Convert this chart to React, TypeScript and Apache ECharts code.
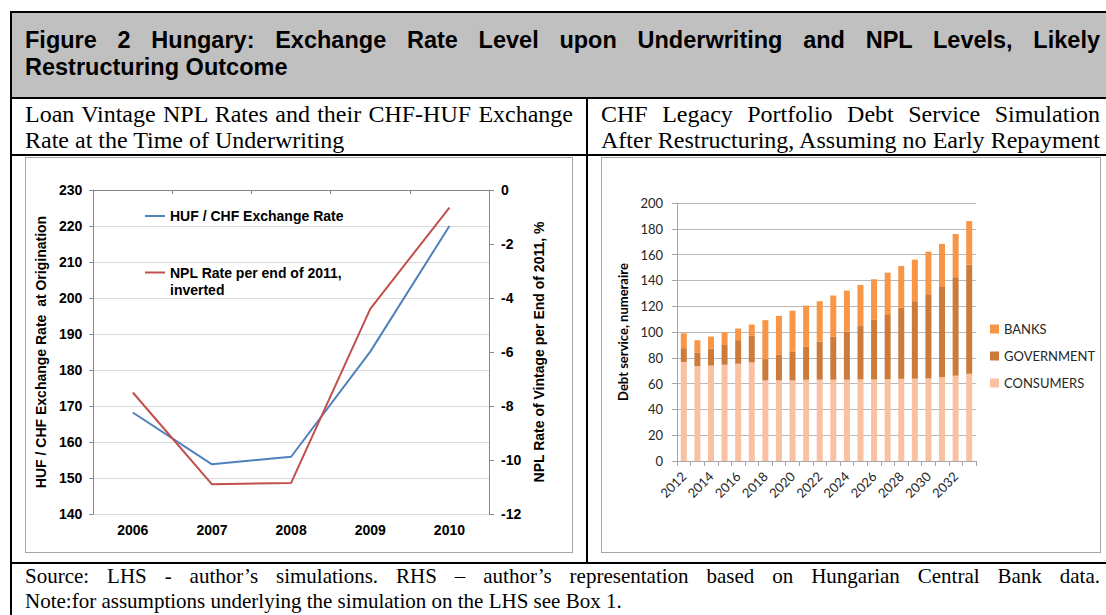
import React, { useEffect, useRef } from "react";
import * as echarts from "echarts";

// ---- Left chart data ----
const vintageYears = ["2006", "2007", "2008", "2009", "2010"];
const hufChfRate = [168.2, 153.8, 155.9, 185.1, 220.0];
const nplRateInverted = [-7.5, -10.9, -10.85, -4.4, -0.65];
const leftAxisTicks = { min: 140, max: 230, interval: 10 };
const rightAxisTicks = { min: -12, max: 0, interval: 2 };

// ---- Right chart data ----
const debtYears = [
  "2012", "2013", "2014", "2015", "2016", "2017", "2018", "2019", "2020", "2021", "2022",
  "2023", "2024", "2025", "2026", "2027", "2028", "2029", "2030", "2031", "2032", "2033",
];
const consumers = [76.8, 73.5, 74.0, 74.6, 75.4, 76.4, 62.5, 62.5, 62.5, 63.0, 63.0, 63.0, 63.0, 63.2, 63.2, 63.4, 63.7, 63.8, 64.0, 65.0, 66.1, 67.6];
const government = [10.7, 10.3, 13.0, 15.9, 18.3, 20.6, 16.5, 19.8, 22.1, 25.5, 29.4, 33.5, 37.4, 41.4, 46.2, 50.4, 55.0, 60.1, 65.3, 70.5, 76.4, 84.7];
const banks = [11.5, 9.8, 9.5, 9.3, 9.0, 8.8, 30.2, 30.2, 32.0, 32.0, 31.5, 31.8, 31.7, 31.9, 31.5, 32.2, 32.5, 32.2, 33.0, 32.8, 33.5, 33.7];
const debtAxisTicks = { min: 0, max: 200, interval: 20 };

const ARIAL = "'Liberation Sans', Arial, sans-serif";
const TIMES = "'Liberation Serif', 'Times New Roman', serif";
const CALIBRI = "Lato, 'Open Sans', sans-serif";

function LeftChart() {
  const ref = useRef<HTMLDivElement>(null);
  useEffect(() => {
    const chart = echarts.init(ref.current!, null, { renderer: "svg" });
    const bold = { fontFamily: ARIAL, fontWeight: "bold" as const, fontSize: 14, color: "#000" };
    chart.setOption({
      animation: false,
      grid: { left: 65, right: 83, top: 32, bottom: 38 },
      legend: [
        {
          data: ["HUF / CHF Exchange Rate"],
          left: 119,
          top: 51,
          padding: 0,
          itemWidth: 20,
          itemHeight: 2,
          icon: "rect",
          itemStyle: { borderWidth: 0 },
          textStyle: { ...bold },
        },
        {
          data: ["NPL Rate per end of 2011, inverted"],
          left: 119,
          top: 106,
          padding: 0,
          itemWidth: 20,
          itemHeight: 34,
          icon: "path://M0,0L0.01,0L0.01,0.01ZM0,7.5L20,7.5L20,9.5L0,9.5ZM0,34L0.01,34L0.01,33.99Z",
          itemStyle: { borderWidth: 0 },
          formatter: () => "NPL Rate per end of 2011,\ninverted",
          textStyle: { ...bold, lineHeight: 17 },
        },
      ],
      xAxis: {
        type: "category",
        data: vintageYears,
        boundaryGap: true,
        axisLine: { lineStyle: { color: "#868686", width: 1 } },
        axisTick: { show: true, length: 4, lineStyle: { color: "#868686" } },
        axisLabel: { ...bold, margin: 9 },
      },
      yAxis: [
        {
          type: "value",
          position: "left",
          min: leftAxisTicks.min,
          max: leftAxisTicks.max,
          interval: leftAxisTicks.interval,
          name: "HUF / CHF Exchange Rate  at Origination",
          nameLocation: "middle",
          nameGap: 44,
          nameTextStyle: { ...bold },
          axisLine: { show: true, lineStyle: { color: "#868686" } },
          axisTick: { show: true, length: 4, lineStyle: { color: "#868686" } },
          axisLabel: { ...bold, margin: 11 },
          splitLine: { show: true, lineStyle: { color: "#D9D9D9", width: 1 } },
        },
        {
          type: "value",
          position: "right",
          min: rightAxisTicks.min,
          max: rightAxisTicks.max,
          interval: rightAxisTicks.interval,
          name: "NPL Rate of Vintage per End of 2011, %",
          nameLocation: "middle",
          nameGap: 37,
          nameTextStyle: { ...bold },
          axisLine: { show: true, lineStyle: { color: "#868686" } },
          axisTick: { show: true, length: 5, lineStyle: { color: "#868686" } },
          axisLabel: { ...bold, margin: 12 },
          splitLine: { show: false },
        },
      ],
      series: [
        {
          name: "HUF / CHF Exchange Rate",
          type: "line",
          yAxisIndex: 0,
          data: hufChfRate,
          symbol: "none",
          color: "#4F81BD",
          lineStyle: { width: 2, color: "#4F81BD" },
        },
        {
          name: "NPL Rate per end of 2011, inverted",
          type: "line",
          yAxisIndex: 1,
          data: nplRateInverted,
          symbol: "none",
          color: "#C0504D",
          lineStyle: { width: 2, color: "#C0504D" },
        },
      ],
    });
    return () => chart.dispose();
  }, []);
  return <div ref={ref} style={{ width: 546, height: 394 }} />;
}

function RightChart() {
  const ref = useRef<HTMLDivElement>(null);
  useEffect(() => {
    const chart = echarts.init(ref.current!, null, { renderer: "svg" });
    const txt = { fontFamily: CALIBRI, fontSize: 13, color: "#262626" };
    chart.setOption({
      animation: false,
      grid: { left: 75, right: 124, top: 45, bottom: 91 },
      legend: {
        data: ["BANKS", "GOVERNMENT", "CONSUMERS"],
        orient: "vertical",
        left: 383,
        top: 159.5,
        itemWidth: 9,
        itemHeight: 9,
        itemGap: 14,
        icon: "rect",
        textStyle: { ...txt },
      },
      xAxis: {
        type: "category",
        data: debtYears,
        boundaryGap: true,
        axisLine: { lineStyle: { color: "#A6A6A6" } },
        axisTick: { show: true, interval: 0, length: 5, lineStyle: { color: "#A6A6A6" } },
        axisLabel: { ...txt, interval: 1, rotate: 45, margin: 13 },
      },
      yAxis: {
        type: "value",
        min: debtAxisTicks.min,
        max: debtAxisTicks.max,
        interval: debtAxisTicks.interval,
        name: "Debt service, numeraire",
        nameLocation: "middle",
        nameGap: 37,
        nameTextStyle: { fontFamily: CALIBRI, fontSize: 13, fontWeight: "bold", color: "#000" },
        axisLine: { show: true, lineStyle: { color: "#A6A6A6" } },
        axisTick: { show: true, length: 5, lineStyle: { color: "#A6A6A6" } },
        axisLabel: { ...txt, margin: 14 },
        splitLine: { show: true, lineStyle: { color: "#B8B8B8", width: 1 } },
      },
      series: [
        { name: "CONSUMERS", type: "bar", stack: "d", data: consumers, barWidth: 6, color: "#F9C1A2" },
        { name: "GOVERNMENT", type: "bar", stack: "d", data: government, barWidth: 6, color: "#CD7B3B" },
        { name: "BANKS", type: "bar", stack: "d", data: banks, barWidth: 6, color: "#F79646" },
      ],
    });
    return () => chart.dispose();
  }, []);
  return <div ref={ref} style={{ width: 498, height: 394 }} />;
}

const abs = (l: number, t: number, w: number, h: number, extra: React.CSSProperties = {}): React.CSSProperties => ({
  position: "absolute",
  left: l,
  top: t,
  width: w,
  height: h,
  ...extra,
});

function JLine({ children, justify }: { children: React.ReactNode; justify: boolean }) {
  return (
    <div
      style={{
        whiteSpace: "nowrap",
        textAlign: justify ? "justify" : "left",
        textAlignLast: justify ? "justify" : "left",
      }}
    >
      {children}
    </div>
  );
}

export default function App() {
  return (
    <div style={abs(0, 0, 1106, 615, { overflow: "hidden", background: "#fff" })}>
      {/* header background */}
      <div style={abs(12, 13, 1100, 84, { background: "#C0C0C0" })} />
      {/* black frame lines */}
      <div style={abs(10, 11, 1100, 2, { background: "#000" })} />
      <div style={abs(10, 11, 2, 610, { background: "#000" })} />
      <div style={abs(10, 97, 1100, 2, { background: "#000" })} />
      <div style={abs(10, 154, 1100, 2, { background: "#000" })} />
      <div style={abs(586, 97, 2, 467, { background: "#000" })} />
      <div style={abs(10, 562, 1100, 2, { background: "#000" })} />

      {/* header text */}
      <div style={abs(25, 27, 1075, 60, { fontFamily: ARIAL, fontWeight: "bold", fontSize: 23.5, lineHeight: "27px", color: "#000" })}>
        <JLine justify>Figure 2 Hungary: Exchange Rate Level upon Underwriting and NPL Levels, Likely</JLine>
        <JLine justify={false}>Restructuring Outcome</JLine>
      </div>

      {/* subtitles */}
      <div style={abs(25, 101, 548, 52, { fontFamily: TIMES, fontSize: 24, lineHeight: "26px", color: "#000" })}>
        <JLine justify>Loan Vintage NPL Rates and their CHF-HUF Exchange</JLine>
        <JLine justify={false}>Rate at the Time of Underwriting</JLine>
      </div>
      <div style={abs(601, 101, 499, 52, { fontFamily: TIMES, fontSize: 24, lineHeight: "26px", color: "#000" })}>
        <JLine justify>CHF Legacy Portfolio Debt Service Simulation</JLine>
        <JLine justify>After Restructuring, Assuming no Early Repayment</JLine>
      </div>

      {/* chart boxes */}
      <div style={abs(25, 157, 546, 394, { border: "1px solid #A6A6A6" })}>
        <LeftChart />
      </div>
      <div style={abs(601, 157, 498, 394, { border: "1px solid #A6A6A6" })}>
        <RightChart />
      </div>

      {/* footer */}
      <div style={abs(25, 564, 1075, 50, { fontFamily: TIMES, fontSize: 21, lineHeight: "25px", color: "#000" })}>
        <JLine justify>Source: LHS - author’s simulations. RHS – author’s representation based on Hungarian Central Bank data.</JLine>
        <JLine justify={false}>Note:for assumptions underlying the simulation on the LHS see Box 1.</JLine>
      </div>
    </div>
  );
}
